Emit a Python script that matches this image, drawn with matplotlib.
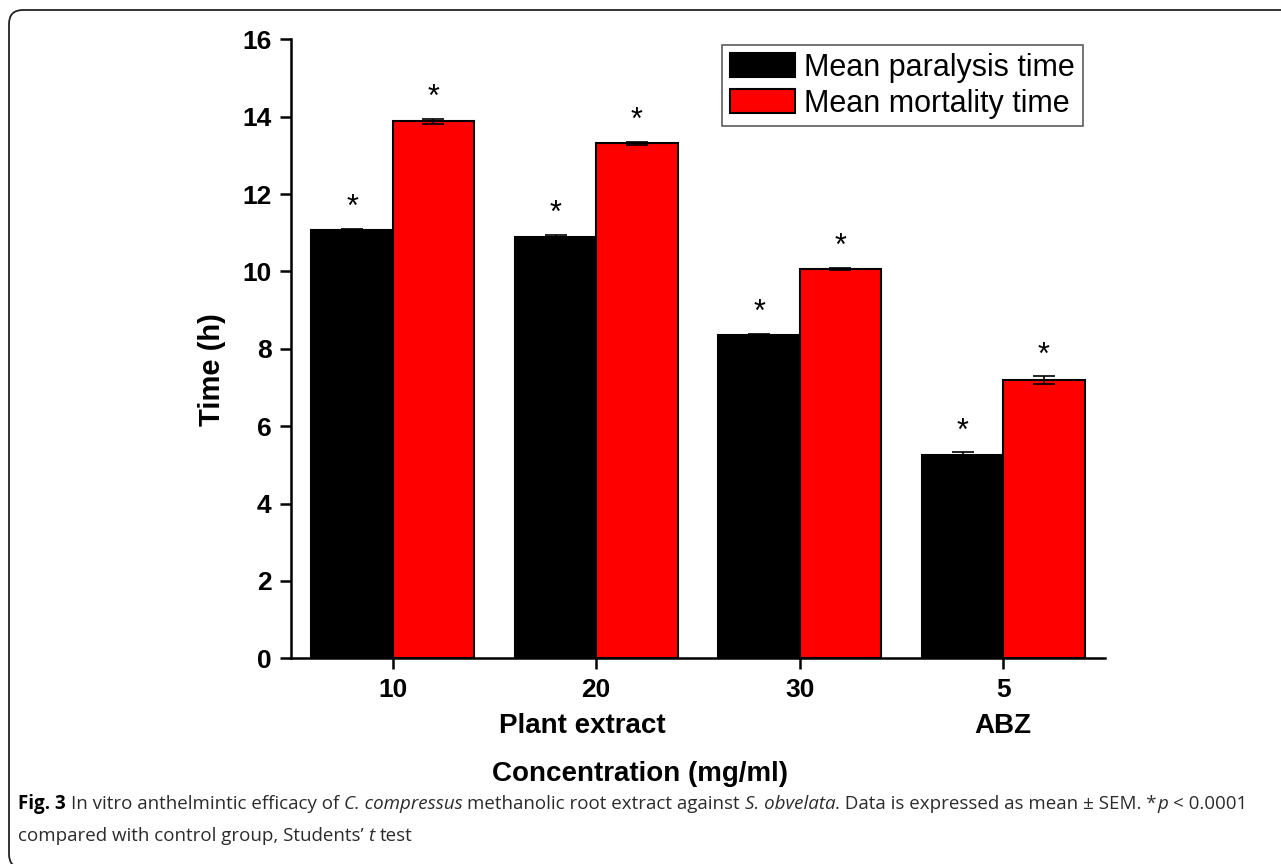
import numpy as np
import matplotlib
matplotlib.use("Agg")
import matplotlib.pyplot as plt
from matplotlib.patches import Patch, FancyBboxPatch
import matplotlib.transforms as mtransforms

# ---------------- data ----------------
concentrations = ["10", "20", "30", "5"]
group_labels = ["Plant extract", "ABZ"]
paralysis = [11.07, 10.89, 8.36, 5.25]
paralysis_sem = [0.03, 0.05, 0.03, 0.07]
mortality = [13.88, 13.31, 10.06, 7.19]
mortality_sem = [0.07, 0.03, 0.03, 0.10]
series_names = ["Mean paralysis time", "Mean mortality time"]
y_ticks = [0, 2, 4, 6, 8, 10, 12, 14, 16]

W, H = 1281, 864
fig = plt.figure(figsize=(W / 100, H / 100), dpi=100)
plt.rcParams['font.family'] = ['Liberation Sans', 'DejaVu Sans']

ax = fig.add_axes([291 / W, 1 - 658.3 / H, (1105 - 291) / W, (658.3 - 39.3) / H])

x = np.arange(1, len(concentrations) + 1)
bw = 0.4
err_kw = dict(ecolor='black', elinewidth=1.2, capthick=1.2)
ax.bar(x - bw / 2, paralysis, bw, color='black', edgecolor='black', linewidth=1.5,
       yerr=paralysis_sem, capsize=8, error_kw=err_kw, zorder=2)
ax.bar(x + bw / 2, mortality, bw, color='#ff0000', edgecolor='black', linewidth=1.5,
       yerr=mortality_sem, capsize=8, error_kw=err_kw, zorder=2)

# significance asterisks
for xi, v, e in zip(x - bw / 2, paralysis, paralysis_sem):
    ax.text(xi, v + e + 0.15, "*", ha='center', va='bottom', fontsize=22)
for xi, v, e in zip(x + bw / 2, mortality, mortality_sem):
    ax.text(xi, v + e + 0.15, "*", ha='center', va='bottom', fontsize=22)

ax.set_xlim(0.5, 4.5)
ax.set_ylim(0, 16)
ax.set_yticks(y_ticks)
ax.set_yticklabels([str(t) for t in y_ticks], fontsize=19, fontweight='bold')
ax.set_xticks(x)
ax.set_xticklabels(concentrations, fontsize=19, fontweight='bold')
for s in ['top', 'right']:
    ax.spines[s].set_visible(False)
for s in ['left', 'bottom']:
    ax.spines[s].set_linewidth(1.8)
ax.tick_params(direction='out', length=8, width=1.8, pad=6)

# group labels under ticks
trans = mtransforms.blended_transform_factory(ax.transData, fig.transFigure)
ax.text(1.93, 1 - 726 / H, group_labels[0], transform=trans, ha='center', va='center',
        fontsize=20, fontweight='bold')
ax.text(4.0, 1 - 726 / H, group_labels[1], transform=trans, ha='center', va='center',
        fontsize=20, fontweight='bold')

fig.text(640 / W, 1 - 774 / H, "Concentration (mg/ml)", ha='center', va='center',
         fontsize=20, fontweight='bold')
fig.text(212 / W, 1 - 370 / H, "Time (h)", ha='center', va='center', rotation=90,
         fontsize=21, fontweight='bold')

handles = [Patch(facecolor='black', edgecolor='black', linewidth=1.5),
           Patch(facecolor='#ff0000', edgecolor='black', linewidth=1.5)]
leg = fig.legend(handles, series_names, loc='upper left',
                 bbox_to_anchor=(722 / W, 1 - 45 / H), fontsize=22, frameon=True,
                 fancybox=False, handlelength=2.15, handleheight=0.85, handletextpad=0.3,
                 labelspacing=0.2, borderpad=0.25, borderaxespad=0)
leg.get_frame().set_edgecolor('#333333')
leg.get_frame().set_linewidth(1.2)

# rounded border (top/left visible)
box = FancyBboxPatch((9, -4), 1400, 854 - (-4), boxstyle="round,pad=0,rounding_size=14",
                     transform=mtransforms.IdentityTransform(), fill=False,
                     edgecolor='#222222', linewidth=1.3)
fig.patches.append(box)

# caption with mixed styles
renderer = fig.canvas.get_renderer()
cap_fs = 13.5
cap_col = '#2b2b2b'
base = dict(fontsize=cap_fs, family='Open Sans', color=cap_col, va='baseline')

def measure(s, **kw):
    t = fig.text(0, 0, s, **{**base, **kw})
    w = t.get_window_extent(renderer).width
    t.remove()
    return w

sp = measure("x x") - measure("xx")

def draw_line(y_px, pieces, x0=18):
    xx = x0
    for s, style in pieces:
        lead = len(s) - len(s.lstrip(' '))
        trail = len(s) - len(s.rstrip(' '))
        core = s.strip(' ')
        xx += lead * sp
        kw = {}
        if style == 'b':
            kw = dict(fontweight='bold', color='black')
        elif style == 'i':
            kw = dict(fontstyle='italic')
        t = fig.text(xx / W, 1 - y_px / H, core, **{**base, **kw})
        bb = t.get_window_extent(renderer)
        xx = bb.x1 + trail * sp

line1 = [("Fig. 3", 'b'), (" In vitro anthelmintic efficacy of ", 'n'), ("C. compressus", 'i'),
         (" methanolic root extract against ", 'n'), ("S. obvelata", 'i'),
         (". Data is expressed as mean ± SEM. *", 'n'), ("p", 'i'), (" < 0.0001", 'n')]
line2 = [("compared with control group, Students\u2019 ", 'n'), ("t", 'i'), (" test", 'n')]
draw_line(809, line1)
draw_line(841, line2)

fig.savefig("out.png", dpi=100)
